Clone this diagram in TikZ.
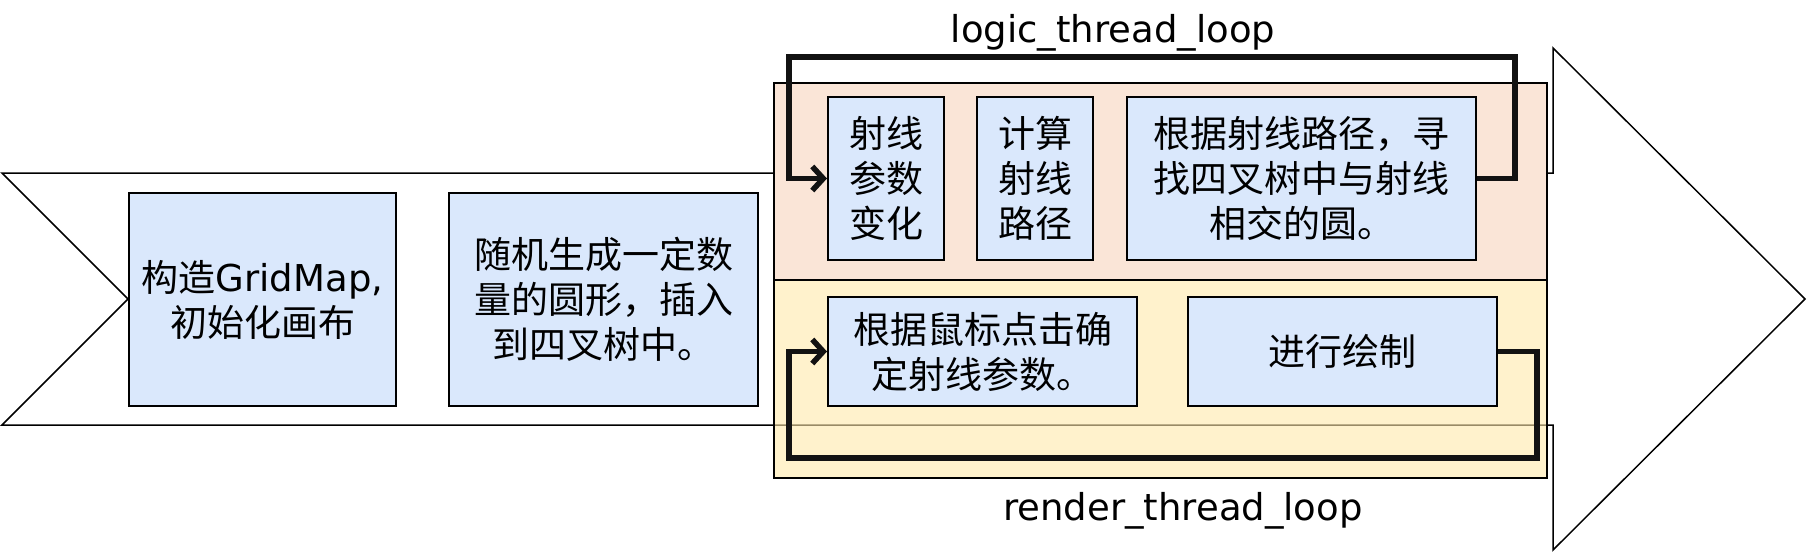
\documentclass[tikz,border=0pt]{standalone}
\usepackage{fontspec}
\setmainfont{DejaVu Sans}
\newfontfamily\cjk{Noto Sans CJK SC}
\usepackage{xcolor}
\usepackage{tikz}
\usetikzlibrary{arrows.meta,calc}

\definecolor{taskblue}{HTML}{DAE8FC}
\definecolor{logicbg}{HTML}{FAE5D7}
\definecolor{renderbg}{HTML}{FFE9AA}

\tikzset{
  task/.style={draw=black, line width=2pt, fill=taskblue, align=center,
    inner sep=0pt, font=\fontsize{37}{45}\selectfont},
  looplabel/.style={font=\fontsize{37}{44}\selectfont},
  loopline/.style={draw=black!93, line width=5.5pt, ->,
    >={Straight Barb[length=11pt,width=24pt]}},
}

\begin{document}
\begin{tikzpicture}[x=1pt,y=-1pt]
        \useasboundingbox (0,0) rectangle (1807,554);
        % big process arrow
        \draw[line width=1.5pt] (2,173) -- (1553,173) -- (1553,48) -- (1805,299)
            -- (1553,550) -- (1553,425) -- (2,425) -- (128,299) -- cycle;
        % the two thread panels
        \draw[line width=2pt, fill=logicbg] (774,83) rectangle (1547,280);
        \draw[line width=2pt, fill=renderbg, fill opacity=0.6] (774,280) rectangle (1547,478);
        % init steps
        \node[task, minimum width=267, minimum height=213] (gridmap) at (262.5,299.5)
            {{\cjk 构造}GridMap,\\{\cjk 初始化画布}};
        \node[task, minimum width=309, minimum height=213] (circles) at (603.5,299.5)
            {\cjk 随机生成一定数\\\cjk 量的圆形，插入\\\cjk 到四叉树中。};
        % logic thread
        \node[task, minimum width=116, minimum height=163] (ray) at (886,178.5)
            {\cjk 射线\\\cjk 参数\\\cjk 变化};
        \node[task, minimum width=116, minimum height=163] (path) at (1035,178.5)
            {\cjk 计算\\\cjk 射线\\\cjk 路径};
        \node[task, minimum width=349, minimum height=163] (find) at (1301.5,178.5)
            {\cjk 根据射线路径，寻\\\cjk 找四叉树中与射线\\\cjk 相交的圆。};
        % render thread
        \node[task, minimum width=309, minimum height=109] (mouse) at (982.5,351.5)
            {\cjk 根据鼠标点击确\\\cjk 定射线参数。};
        \node[task, minimum width=309, minimum height=109] (paint) at (1342.5,351.5)
            {\cjk 进行绘制};
        % loops
        \coordinate (logicR) at (1515,57);
        \coordinate (logicL) at (789,57);
        \coordinate (renderR) at (1537,458);
        \coordinate (renderL) at (789,458);
        \draw[loopline] (find.east) -| (logicR) -- (logicL) |- (ray.west);
        \draw[loopline] (paint.east) -| (renderR) -- (renderL) |- (mouse.west);
        \node[looplabel] (logiclbl) at (1113,33) {logic\_thread\_loop};
        \node[looplabel] (renderlbl) at (1183,511) {render\_thread\_loop};
    \end{tikzpicture}
\end{document}
